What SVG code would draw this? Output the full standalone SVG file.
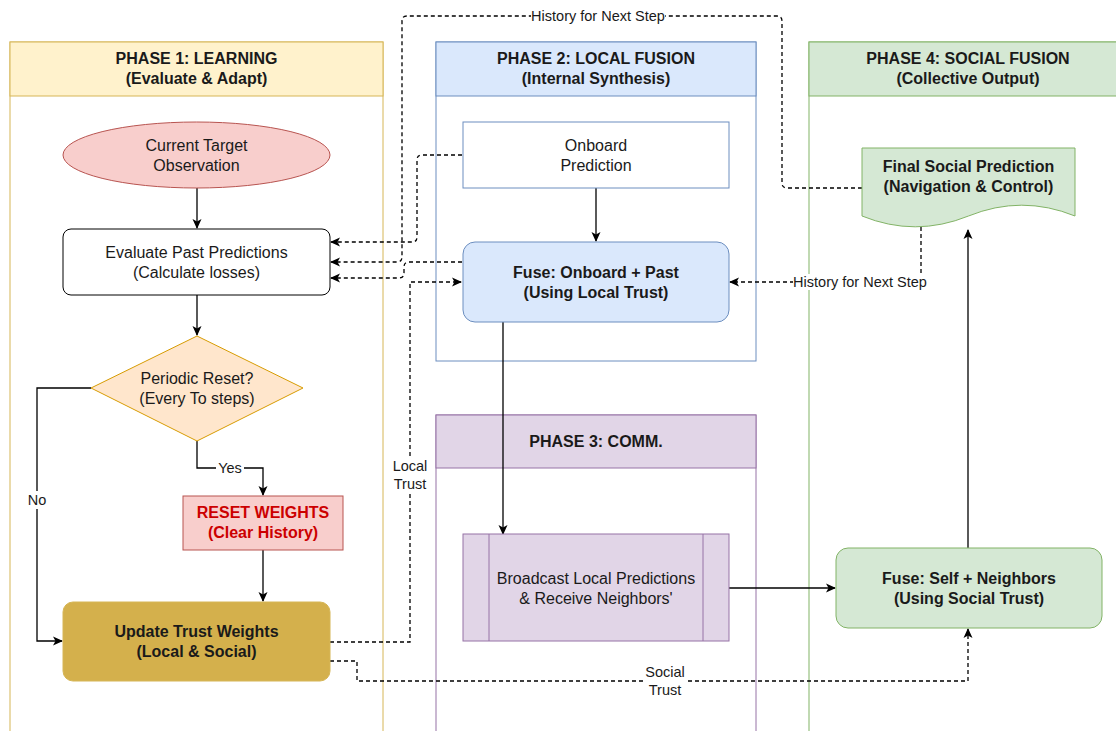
<svg xmlns="http://www.w3.org/2000/svg" width="1116" height="731" viewBox="0 0 1116 731">
<defs>
<marker id="arr" viewBox="0 0 10 10" refX="9" refY="5" markerWidth="10" markerHeight="10" markerUnits="userSpaceOnUse" orient="auto">
<path d="M0,0.5 L10,5 L0,9.5 L2.5,5 z" fill="#000"/>
</marker>
<style>
text{font-family:"Liberation Sans",Arial,Helvetica,sans-serif;fill:#1a1a1a;text-anchor:middle;dominant-baseline:central}
.t{font-size:16px}
.b{font-size:16px;font-weight:bold}
.l{font-size:14.5px}
.solid{fill:none;stroke:#000;stroke-width:1.3}
.dash{fill:none;stroke:#000;stroke-width:1.3;stroke-dasharray:4 3}
.lbg{fill:#fff}
</style>
</defs>
<rect x="0" y="0" width="1116" height="731" fill="#fff"/>

<g id="phase1">
<rect x="10" y="42" width="373" height="700" fill="#fff" stroke="#d6b656"/>
<rect x="10" y="42" width="373" height="54" fill="#fff2cc" stroke="#d6b656"/>
<text class="b" x="196.5" y="58">PHASE 1: LEARNING</text>
<text class="b" x="196.5" y="78">(Evaluate &amp; Adapt)</text>
</g>
<g id="phase2">
<rect x="436" y="42" width="320" height="319" fill="#fff" stroke="#6c8ebf"/>
<rect x="436" y="42" width="320" height="54" fill="#dae8fc" stroke="#6c8ebf"/>
<text class="b" x="596" y="58">PHASE 2: LOCAL FUSION</text>
<text class="b" x="596" y="78">(Internal Synthesis)</text>
</g>
<g id="phase3">
<rect x="436" y="415" width="320" height="330" fill="#fff" stroke="#9673a6"/>
<rect x="436" y="415" width="320" height="53" fill="#e1d5e7" stroke="#9673a6"/>
<text class="b" x="596" y="441">PHASE 3: COMM.</text>
</g>
<g id="phase4">
<rect x="809" y="42" width="320" height="700" fill="#fff" stroke="#82b366"/>
<rect x="809" y="42" width="320" height="54" fill="#d5e8d4" stroke="#82b366"/>
<text class="b" x="968" y="58">PHASE 4: SOCIAL FUSION</text>
<text class="b" x="968" y="78">(Collective Output)</text>
</g>

<g id="connectors">
<path class="solid" d="M197,188 V228" marker-end="url(#arr)"/>
<path class="solid" d="M197,295 V335" marker-end="url(#arr)"/>
<path class="solid" d="M91,388 H37 V641 H62" marker-end="url(#arr)"/>
<path class="solid" d="M197,441 V468 H263 V495" marker-end="url(#arr)"/>
<path class="solid" d="M263,550 V601" marker-end="url(#arr)"/>
<path class="solid" d="M596,188 V241" marker-end="url(#arr)"/>
<path class="solid" d="M503,322 V534" marker-end="url(#arr)"/>
<path class="solid" d="M729,588 H835" marker-end="url(#arr)"/>
<path class="solid" d="M968,548 V230" marker-end="url(#arr)"/>

<path class="dash" d="M462,155 H422 Q417,155 417,160 V237 Q417,242 412,242 H331" marker-end="url(#arr)"/>
<path class="dash" d="M862,188 H787 Q782,188 782,183 V21 Q782,16 777,16 H407 Q402,16 402,21 V257 Q402,262 397,262 H331" marker-end="url(#arr)"/>
<path class="dash" d="M462,262 H409 Q404,262 404,267 V273 Q404,278 399,278 H331" marker-end="url(#arr)"/>
<path class="dash" d="M330,642 H410 V282 H461" marker-end="url(#arr)"/>
<path class="dash" d="M330,661 H357 V681 H968 V629" marker-end="url(#arr)"/>
<path class="dash" d="M921,227 V282 H730" marker-end="url(#arr)"/>

<rect class="lbg" x="26" y="491" width="22" height="18"/>
<text class="l" x="37" y="500">No</text>
<rect class="lbg" x="216" y="460" width="28" height="16"/>
<text class="l" x="230" y="468">Yes</text>
<rect class="lbg" x="390" y="457" width="40" height="36"/>
<text class="l" x="410" y="466">Local</text>
<text class="l" x="410" y="484">Trust</text>
<rect class="lbg" x="643" y="663" width="44" height="36"/>
<text class="l" x="665" y="672">Social</text>
<text class="l" x="665" y="690">Trust</text>
<rect class="lbg" x="531" y="8" width="134" height="16"/>
<text class="l" x="598" y="16">History for Next Step</text>
<rect class="lbg" x="793" y="274" width="134" height="16"/>
<text class="l" x="860" y="282">History for Next Step</text>
</g>

<g id="current-target">
<ellipse cx="196.5" cy="155" rx="133.5" ry="33" fill="#f8cecc" stroke="#b85450"/>
<text class="t" x="196.5" y="145">Current Target</text>
<text class="t" x="196.5" y="165">Observation</text>
</g>
<g id="evaluate">
<rect x="63" y="229" width="267" height="66" rx="8" fill="#fff" stroke="#000"/>
<text class="t" x="196.5" y="252">Evaluate Past Predictions</text>
<text class="t" x="196.5" y="272">(Calculate losses)</text>
</g>
<g id="periodic-reset">
<polygon points="197,336 303,388 197,441 91,388" fill="#ffe6cc" stroke="#d79b00"/>
<text class="t" x="197" y="378">Periodic Reset?</text>
<text class="t" x="197" y="398">(Every To steps)</text>
</g>
<g id="reset-weights">
<rect x="183" y="496" width="160" height="54" fill="#f8cecc" stroke="#b85450"/>
<text class="b" x="263" y="512" style="fill:#cc0000">RESET WEIGHTS</text>
<text class="b" x="263" y="532" style="fill:#cc0000">(Clear History)</text>
</g>
<g id="update-trust">
<rect x="63" y="602" width="267" height="79" rx="10" fill="#d4b04c" stroke="#d6b656"/>
<text class="b" x="196.5" y="631">Update Trust Weights</text>
<text class="b" x="196.5" y="651">(Local &amp; Social)</text>
</g>
<g id="onboard">
<rect x="463" y="122" width="266" height="66" fill="#fff" stroke="#6c8ebf"/>
<text class="t" x="596" y="145">Onboard</text>
<text class="t" x="596" y="165">Prediction</text>
</g>
<g id="fuse-local">
<rect x="463" y="242" width="266" height="80" rx="12" fill="#dae8fc" stroke="#6c8ebf"/>
<text class="b" x="596" y="272">Fuse: Onboard + Past</text>
<text class="b" x="596" y="292">(Using Local Trust)</text>
</g>
<g id="broadcast">
<rect x="463" y="534" width="266" height="107" fill="#e1d5e7" stroke="#9673a6"/>
<line x1="489" y1="534" x2="489" y2="641" stroke="#9673a6"/>
<line x1="703" y1="534" x2="703" y2="641" stroke="#9673a6"/>
<text class="t" x="596" y="578">Broadcast Local Predictions</text>
<text class="t" x="596" y="598">&amp; Receive Neighbors'</text>
</g>
<g id="final-social">
<path d="M862,148 H1075 V216 Q1021.75,194.4 968.5,216 Q915.25,237.6 862,216 Z" fill="#d5e8d4" stroke="#82b366"/>
<text class="b" x="968.5" y="166">Final Social Prediction</text>
<text class="b" x="968.5" y="186">(Navigation &amp; Control)</text>
</g>
<g id="fuse-social">
<rect x="836" y="548" width="266" height="80" rx="12" fill="#d5e8d4" stroke="#82b366"/>
<text class="b" x="969" y="578">Fuse: Self + Neighbors</text>
<text class="b" x="969" y="598">(Using Social Trust)</text>
</g>
</svg>
